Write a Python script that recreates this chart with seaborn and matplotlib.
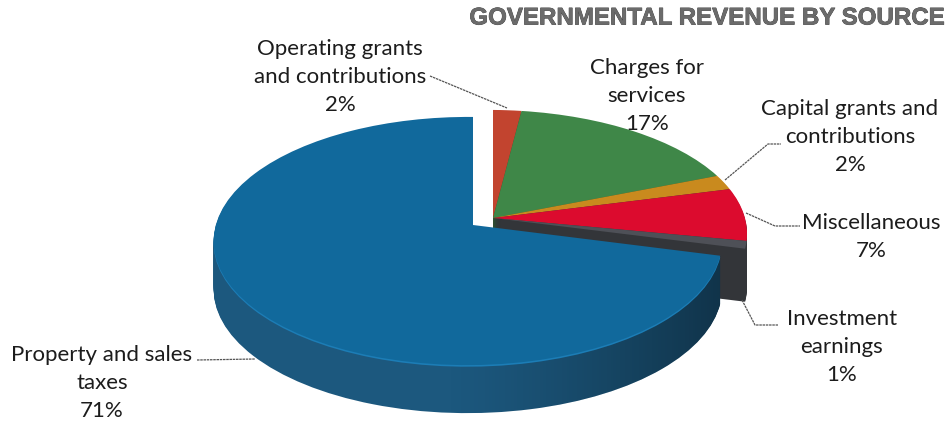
import matplotlib
matplotlib.use("Agg")
import numpy as np
import matplotlib.pyplot as plt
import matplotlib.patheffects as pe
from matplotlib.path import Path
from matplotlib.transforms import Transform
import seaborn as sns

# Revenue shares, clockwise from twelve o'clock
categories = ["Operating grants\nand contributions", "Charges for\nservices",
              "Capital grants and\ncontributions", "Miscellaneous",
              "Investment\nearnings", "Property and sales\ntaxes"]
shares = [2, 17, 2, 7, 1, 71]
title = "GOVERNMENTAL REVENUE BY SOURCE"

face_colors = ["#c2442f", "#3f8748", "#c98a1e", "#dc0b2e", "#4e5057", "#11699c"]
wall_colors = ["#7e2c1f", "#2a5a30", "#333539", "#333539", "#333539", "#1c587e"]

sns.set_theme(style="white")
plt.rcParams["font.family"] = ["Lato", "DejaVu Sans"]


class TiltedDisc(Transform):
    """Perspective view of a unit disc lying on a table, in pixel coordinates."""
    input_dims = output_dims = 2

    def __init__(self, cx, cy, rx, ry=122.0, tilt=0.129, turn=0.02):
        super().__init__()
        self.cx, self.cy, self.rx, self.ry = cx, cy, rx, ry
        self.tilt, self.turn = tilt, turn

    def transform_non_affine(self, values):
        values = np.asarray(values, dtype=float)
        w = 1 + self.tilt * values[:, 1] + self.turn * values[:, 0]
        return np.column_stack([self.cx + self.rx * values[:, 0] / w,
                                self.cy - self.ry * values[:, 1] / w])


def draw_disc(ax, cx, cy, rx, colors, shown, zorder=1):
    wedges, _ = ax.pie(shares, colors=colors, startangle=90, counterclock=False,
                       wedgeprops={"linewidth": 0, "zorder": zorder})
    for i, wedge in enumerate(wedges):
        wedge.set_visible(i in shown)
        wedge.set_transform(TiltedDisc(cx, cy, rx) + ax.transData)
    return wedges


fig = plt.figure(figsize=(9.49, 4.24), dpi=100)
ax = fig.add_axes([0, 0, 1, 1])

main_slice = {5}
other_slices = {0, 1, 2, 3, 4}
main_depth = 48
other_depth = 53
main_rx = 252
other_rx = 257

# Smaller slices sit behind, pulled away from the large one
for step in range(other_depth, 0, -1):
    draw_disc(ax, 493, 218 + step, other_rx, wall_colors, other_slices)
draw_disc(ax, 493, 218, other_rx, face_colors, other_slices)

# Side wall of the property slice
wall_outline = []
for step in range(main_depth, 0, -1):
    layer = draw_disc(ax, 473, 225 + step, main_rx, [wall_colors[5]] * len(shares), main_slice)
    wall_outline.append(TiltedDisc(473, 225 + step, main_rx).transform_path(layer[5].get_path()))

# The wall falls into shade towards its right-hand end
shade = np.zeros((1, 256, 4))
shade[0, :, 3] = np.clip((np.linspace(0, 1, 256) - 0.45) / 0.55, 0, 1) ** 1.3 * 0.45
image = ax.imshow(shade, extent=(200, 740, 420, 220), aspect="auto", zorder=1.5)
image.set_clip_path(Path.make_compound_path(*wall_outline), ax.transData)

# Top of the property slice, with a lit rim along its front edge
draw_disc(ax, 473, 226.6, main_rx, ["#1c7db6"] * len(shares), main_slice, zorder=2)
draw_disc(ax, 473, 225, main_rx, face_colors, main_slice, zorder=2)

ax.set_aspect("auto")
ax.set_xlim(0, 949)
ax.set_ylim(424, 0)
ax.axis("off")

# Slice captions
label_spots = [(340, 77), (647, 96), (850, 137), (871, 237), (842, 347), (102, 383)]
for name, value, (x, y) in zip(categories, shares, label_spots):
    ax.text(x, y, f"{name}\n{value}%", ha="center", va="center", fontsize=16,
            color="#1c1c1c", linespacing=1.49, zorder=5)

# Leader lines
leaders = [([430, 507], [76, 108]),
           ([725, 768, 781], [180, 144, 144]),
           ([746, 775, 800], [213, 226, 226]),
           ([742, 755, 778], [300, 325, 325]),
           ([197, 255], [360, 359])]
for xs, ys in leaders:
    ax.plot(xs, ys, color="#555555", lw=0.9, ls=(0, (2, 0.6)), zorder=4)

ax.text(946, 18, title, ha="right", va="center", fontsize=17.35, fontweight="bold",
        family=["Liberation Sans"], color="#6b6b6b",
        path_effects=[pe.withStroke(linewidth=0.5, foreground="#3a3a3a")])

fig.savefig("out.png", dpi=100)
